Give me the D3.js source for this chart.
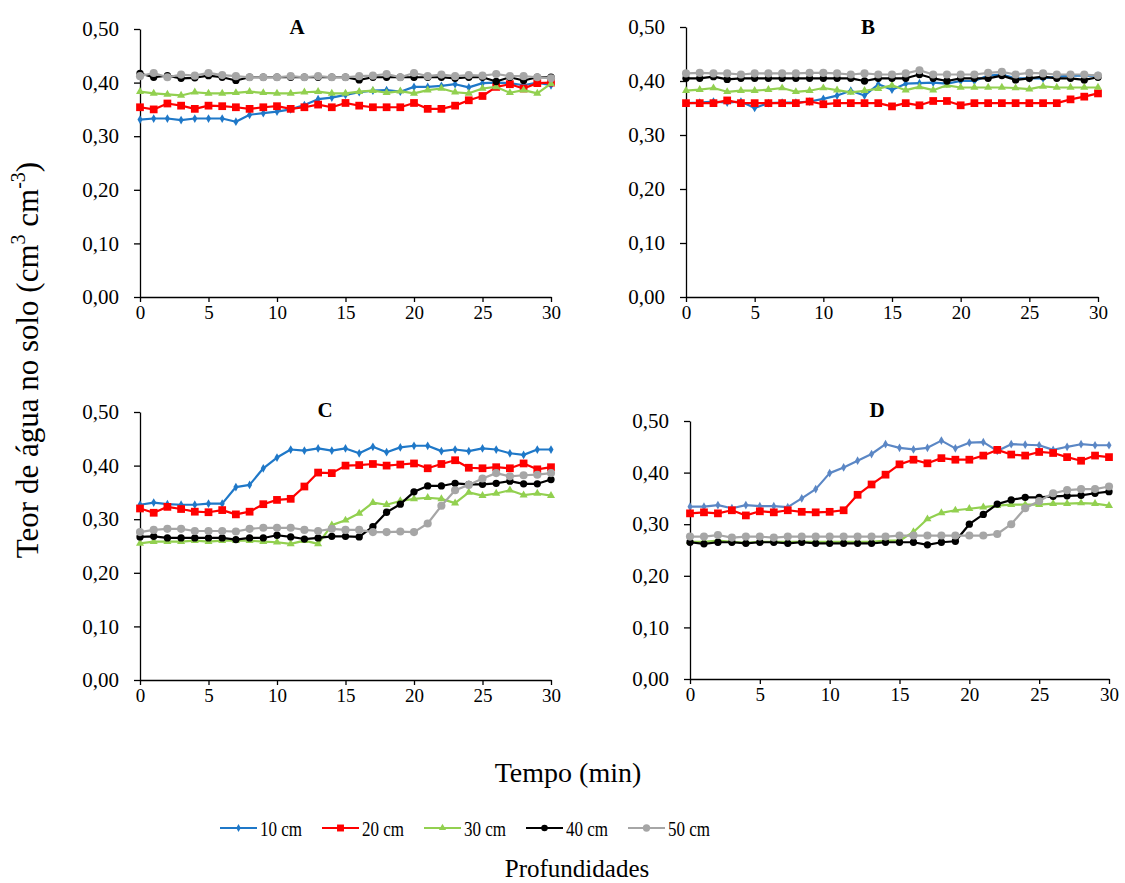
<!DOCTYPE html>
<html>
<head>
<meta charset="utf-8">
<script src="https://cdn.jsdelivr.net/npm/d3@7"></script>
<style>
  html, body { margin: 0; padding: 0; background: #fff; }
  svg { display: block; }
  svg text { font-family: "Liberation Serif", "Times New Roman", serif !important; fill: #000; }
</style>
</head>
<body>
<svg id="chart" width="1125" height="883"></svg>
<script>
// ---------------- DATA ----------------
const minutes = d3.range(0, 31);
const seriesNames = ["10 cm", "20 cm", "30 cm", "40 cm", "50 cm"];
const panelTitles = ["A", "B", "C", "D"];
const yTicks = [0, 0.1, 0.2, 0.3, 0.4, 0.5];
const xTicks = [0, 5, 10, 15, 20, 25, 30];

const A10 = [0.331,0.333,0.333,0.330,0.333,0.333,0.333,0.327,0.340,0.343,0.346,0.350,0.358,0.369,0.372,0.377,0.382,0.385,0.386,0.383,0.392,0.392,0.394,0.397,0.391,0.399,0.400,0.399,0.395,0.400,0.395];
const A20 = [0.354,0.350,0.361,0.357,0.351,0.357,0.356,0.354,0.351,0.354,0.356,0.351,0.354,0.359,0.354,0.362,0.357,0.354,0.354,0.354,0.362,0.351,0.351,0.357,0.367,0.375,0.392,0.397,0.389,0.399,0.400];
const A30 = [0.383,0.380,0.378,0.376,0.382,0.380,0.380,0.381,0.383,0.381,0.380,0.380,0.382,0.383,0.380,0.380,0.383,0.385,0.381,0.384,0.380,0.386,0.389,0.382,0.380,0.389,0.392,0.381,0.386,0.380,0.398];
const A40 = [0.417,0.410,0.413,0.408,0.409,0.413,0.410,0.404,0.410,0.410,0.410,0.410,0.410,0.410,0.410,0.410,0.405,0.410,0.410,0.410,0.410,0.410,0.410,0.408,0.410,0.410,0.402,0.410,0.404,0.410,0.410];
const A50 = [0.412,0.418,0.410,0.415,0.413,0.418,0.414,0.412,0.410,0.410,0.410,0.412,0.410,0.412,0.410,0.410,0.412,0.413,0.416,0.410,0.418,0.412,0.415,0.412,0.414,0.413,0.416,0.412,0.412,0.410,0.408];

const B10 = [0.359,0.360,0.362,0.360,0.362,0.350,0.359,0.360,0.360,0.362,0.367,0.373,0.382,0.373,0.394,0.384,0.395,0.396,0.397,0.395,0.400,0.400,0.410,0.412,0.405,0.405,0.405,0.408,0.410,0.410,0.410];
const B20 = [0.359,0.359,0.359,0.364,0.359,0.359,0.359,0.359,0.359,0.362,0.357,0.359,0.359,0.359,0.359,0.353,0.359,0.355,0.363,0.363,0.355,0.359,0.359,0.359,0.359,0.359,0.359,0.359,0.366,0.371,0.377];
const B30 = [0.382,0.384,0.387,0.380,0.382,0.382,0.384,0.387,0.380,0.382,0.387,0.383,0.379,0.382,0.386,0.392,0.383,0.389,0.383,0.392,0.388,0.388,0.388,0.388,0.387,0.385,0.390,0.388,0.388,0.388,0.388];
const B40 = [0.405,0.405,0.408,0.403,0.405,0.405,0.405,0.405,0.405,0.405,0.405,0.405,0.405,0.400,0.405,0.405,0.405,0.412,0.405,0.400,0.405,0.405,0.405,0.410,0.402,0.405,0.408,0.405,0.405,0.402,0.407];
const B50 = [0.414,0.415,0.414,0.414,0.412,0.414,0.414,0.414,0.414,0.415,0.415,0.414,0.412,0.414,0.412,0.412,0.414,0.420,0.412,0.412,0.412,0.412,0.415,0.417,0.412,0.415,0.414,0.412,0.412,0.412,0.410];

const C10 = [0.327,0.331,0.328,0.327,0.327,0.329,0.329,0.360,0.364,0.395,0.415,0.430,0.428,0.432,0.428,0.432,0.423,0.435,0.425,0.434,0.437,0.437,0.427,0.430,0.427,0.432,0.430,0.423,0.420,0.430,0.430];
const C20 = [0.320,0.312,0.323,0.319,0.314,0.313,0.317,0.309,0.314,0.328,0.336,0.338,0.361,0.387,0.386,0.400,0.401,0.403,0.400,0.402,0.404,0.395,0.403,0.410,0.396,0.395,0.397,0.395,0.404,0.393,0.397];
const C30 = [0.255,0.258,0.258,0.258,0.260,0.258,0.260,0.260,0.260,0.258,0.257,0.254,0.260,0.254,0.289,0.298,0.311,0.331,0.327,0.334,0.338,0.340,0.338,0.330,0.350,0.344,0.348,0.354,0.345,0.348,0.344];
const C40 = [0.267,0.268,0.265,0.265,0.265,0.265,0.265,0.262,0.265,0.265,0.270,0.267,0.263,0.265,0.268,0.268,0.267,0.286,0.313,0.328,0.351,0.362,0.362,0.367,0.365,0.365,0.367,0.371,0.366,0.366,0.374];
const C50 = [0.276,0.280,0.282,0.282,0.278,0.278,0.278,0.277,0.282,0.284,0.284,0.284,0.280,0.278,0.282,0.280,0.280,0.276,0.276,0.277,0.276,0.292,0.325,0.354,0.364,0.376,0.386,0.380,0.382,0.383,0.386];

const D10 = [0.334,0.334,0.337,0.331,0.337,0.335,0.335,0.333,0.350,0.368,0.399,0.410,0.423,0.436,0.455,0.448,0.445,0.448,0.462,0.447,0.458,0.459,0.442,0.455,0.454,0.453,0.444,0.450,0.455,0.453,0.453];
const D20 = [0.321,0.323,0.321,0.327,0.317,0.325,0.323,0.327,0.324,0.323,0.324,0.327,0.357,0.377,0.396,0.416,0.425,0.418,0.428,0.425,0.425,0.433,0.444,0.435,0.433,0.440,0.438,0.430,0.423,0.433,0.430];
const D30 = [0.266,0.266,0.268,0.266,0.264,0.266,0.266,0.266,0.266,0.266,0.266,0.266,0.266,0.266,0.268,0.268,0.285,0.310,0.322,0.327,0.330,0.333,0.336,0.338,0.338,0.338,0.340,0.340,0.341,0.340,0.336];
const D40 = [0.265,0.262,0.265,0.265,0.263,0.265,0.265,0.263,0.265,0.263,0.263,0.263,0.263,0.263,0.265,0.265,0.265,0.260,0.265,0.267,0.300,0.319,0.339,0.347,0.352,0.352,0.354,0.355,0.356,0.360,0.363];
const D50 = [0.276,0.276,0.279,0.274,0.276,0.276,0.274,0.276,0.276,0.276,0.276,0.276,0.276,0.276,0.276,0.278,0.278,0.278,0.278,0.278,0.278,0.278,0.281,0.300,0.331,0.345,0.360,0.366,0.368,0.368,0.373];

const panelData = [
  [A10, A20, A30, A40, A50],
  [B10, B20, B30, B40, B50],
  [C10, C20, C30, C40, C50],
  [D10, D20, D30, D40, D50]
];

// ---------------- STYLE / LAYOUT ----------------
const colors = ["#1f78c8", "#ff0000", "#92d050", "#000000", "#a6a6a6"];
const colorsD = ["#5b87c5", "#ff0000", "#92d050", "#000000", "#a6a6a6"];
const symbols = [d3.symbolDiamond, d3.symbolSquare, d3.symbolTriangle, d3.symbolCircle, d3.symbolCircle];
const symSizes = [22, 60, 28, 42, 52];
const FONT = "Liberation Serif, Times New Roman, serif";

const layout = [
  { x0: 140, x1: 551, y0: 297, y1: 29, tx: 297, ty: 27 },
  { x0: 686, x1: 1098, y0: 297, y1: 27, tx: 868, ty: 27 },
  { x0: 140, x1: 551, y0: 680, y1: 412, tx: 325, ty: 410 },
  { x0: 690, x1: 1109, y0: 679, y1: 421, tx: 877, ty: 410 }
];

const svg = d3.select("#chart");
const fmt = d => d.toFixed(2).replace(".", ",");

layout.forEach((L, pi) => {
  const x = d3.scaleLinear().domain([0, 30]).range([L.x0, L.x1]);
  const y = d3.scaleLinear().domain([0, 0.5]).range([L.y0, L.y1]);
  const g = svg.append("g");
  const cols = pi === 3 ? colorsD : colors;

  const yAxis = g.append("g").attr("transform", `translate(${L.x0},0)`)
    .call(d3.axisLeft(y).tickValues(yTicks).tickFormat(fmt).tickSize(6).tickSizeOuter(0).tickPadding(17));
  const xAxis = g.append("g").attr("transform", `translate(0,${L.y0})`)
    .call(d3.axisBottom(x).tickValues(xTicks).tickSize(5).tickSizeOuter(0).tickPadding(4));
  [yAxis, xAxis].forEach(a => {
    a.attr("font-family", FONT);
    a.selectAll("path, line").attr("stroke", "#000").attr("stroke-width", 1.3);
    a.selectAll("text").attr("fill", "#000").attr("font-family", FONT).style("font-family", FONT);
  });
  yAxis.selectAll("text").attr("font-size", 21).attr("x", -21);
  xAxis.selectAll("text").attr("font-size", 19);

  const line = d3.line().x((d, i) => x(minutes[i])).y(d => y(d));
  panelData[pi].forEach((vals, si) => {
    g.append("path").datum(vals).attr("d", line)
      .attr("fill", "none").attr("stroke", cols[si]).attr("stroke-width", 2.2)
      .attr("stroke-linejoin", "round");
    g.selectAll(null).data(vals).enter().append("path")
      .attr("transform", (d, i) => `translate(${x(minutes[i])},${y(d)})`)
      .attr("d", d3.symbol().type(symbols[si]).size(symSizes[si]))
      .attr("fill", cols[si]);
  });

  svg.append("text").attr("x", L.tx).attr("y", L.ty + 7)
    .attr("text-anchor", "middle").attr("font-size", 21).attr("font-weight", "bold")
    .text(panelTitles[pi]);
});

// axis titles
svg.append("text").attr("x", 568).attr("y", 782).attr("text-anchor", "middle")
  .attr("font-size", 28).text("Tempo (min)");

const yl = svg.append("text")
  .attr("transform", "translate(38,360) rotate(-90)")
  .attr("text-anchor", "middle").attr("font-size", 31);
yl.append("tspan").text("Teor de água no solo (cm");
yl.append("tspan").attr("font-size", 20).attr("dy", -13).text("3");
yl.append("tspan").attr("dy", 13).text(" cm");
yl.append("tspan").attr("font-size", 20).attr("dy", -13).text("-3");
yl.append("tspan").attr("dy", 13).text(")");

// legend
const legX = [220, 322, 424, 526, 628];
const legY = 828;
seriesNames.forEach((name, i) => {
  const lg = svg.append("g").attr("transform", `translate(${legX[i]},${legY})`);
  lg.append("line").attr("x1", 0).attr("x2", 37).attr("y1", 0).attr("y2", 0)
    .attr("stroke", colors[i]).attr("stroke-width", 2);
  lg.append("path").attr("transform", "translate(18.5,0)")
    .attr("d", d3.symbol().type(symbols[i]).size(symSizes[i] * 0.8)).attr("fill", colors[i]);
  lg.append("text").attr("x", 40).attr("y", 8).attr("font-size", 22)
    .attr("textLength", 42).attr("lengthAdjust", "spacingAndGlyphs").text(name);
});
svg.append("text").attr("x", 577).attr("y", 877).attr("text-anchor", "middle")
  .attr("font-size", 25).text("Profundidades");
</script>
</body>
</html>
